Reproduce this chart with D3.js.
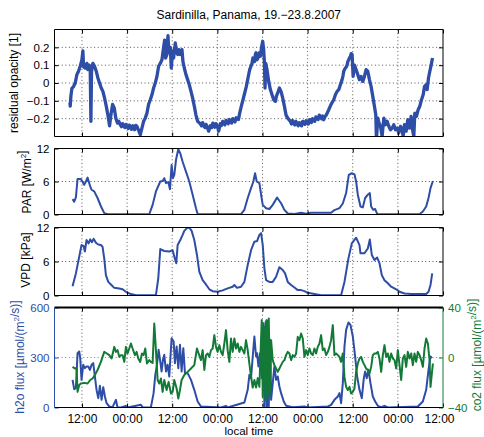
<!DOCTYPE html>
<html>
<head>
<meta charset="utf-8">
<script src="https://cdn.jsdelivr.net/npm/d3@7"></script>
<style>
  body { margin: 0; background: #fff; }
  text { font-family: "Liberation Sans", Arial, Helvetica, sans-serif; }
</style>
</head>
<body>
<svg id="chart" width="484" height="437"></svg>
<script>
// Time is given in hours since 19.8.2007 00:00 (local time).
const timeDomain = [4.7, 108];
const timeTicks = [12, 24, 36, 48, 60, 72, 84, 96, 108];

// residual opacity [1]
const opacity = [[8.80,-0.11],[8.88,-0.13],[9.05,-0.075],[9.32,-0.03],[9.76,-0.02],[10.21,0],[10.65,0.047],[11.09,0.066],[11.54,0.094],[11.98,0.13],[12.25,0.18],[12.43,0.09],[12.87,0.084],[13.31,0.11],[13.58,0.075],[13.93,0.10],[14.20,0.075],[14.38,-0.215],[14.55,0.066],[14.91,0.11],[15.35,0.094],[15.80,0.066],[16.24,0.028],[16.68,0],[17.13,-0.028],[17.57,-0.047],[18.01,-0.084],[18.46,-0.13],[18.90,-0.18],[19.34,-0.24],[19.70,-0.18],[20.14,-0.12],[20.59,-0.14],[21.03,-0.2],[21.47,-0.225],[21.8,-0.215],[22.18,-0.234],[22.5,-0.245],[22.8,-0.228],[23.07,-0.24],[23.4,-0.25],[23.7,-0.232],[23.96,-0.243],[24.3,-0.255],[24.6,-0.236],[24.84,-0.247],[25.2,-0.26],[25.5,-0.24],[25.73,-0.253],[26.0,-0.262],[26.3,-0.238],[26.62,-0.243],[27.06,-0.266],[27.50,-0.29],[27.95,-0.253],[28.39,-0.215],[28.83,-0.197],[29.28,-0.169],[29.72,-0.12],[30.17,-0.094],[30.61,-0.066],[31.05,-0.028],[31.50,0],[31.94,0.037],[32.38,0.094],[32.83,0.11],[33.27,0.13],[33.71,0.2],[33.98,0.24],[34.25,0.14],[34.60,0.16],[34.87,0.266],[35.13,0.17],[35.49,0.2],[35.75,0.084],[36.11,0.18],[36.37,0.14],[36.82,0.225],[37.08,0.18],[37.44,0.16],[37.79,0.187],[38.15,0.16],[38.59,0.187],[38.86,0.12],[39.21,0.084],[39.66,0.047],[40.10,0.019],[40.54,-0.01],[40.99,-0.047],[41.43,-0.084],[41.87,-0.13],[42.32,-0.18],[42.76,-0.215],[43.47,-0.228],[43.8,-0.24],[44.1,-0.222],[44.36,-0.24],[44.7,-0.25],[45.0,-0.232],[45.24,-0.243],[45.69,-0.27],[46.13,-0.24],[46.5,-0.25],[46.8,-0.225],[47.02,-0.234],[47.3,-0.248],[47.6,-0.228],[47.91,-0.24],[48.1,-0.25],[48.35,-0.27],[48.79,-0.228],[49.1,-0.238],[49.4,-0.215],[49.68,-0.225],[50.0,-0.235],[50.3,-0.21],[50.57,-0.22],[50.9,-0.228],[51.2,-0.205],[51.45,-0.215],[51.8,-0.225],[52.1,-0.2],[52.34,-0.21],[52.7,-0.218],[53.0,-0.195],[53.23,-0.202],[53.6,-0.205],[53.94,-0.169],[54.38,-0.13],[54.82,-0.094],[55.27,-0.056],[55.71,-0.019],[56.15,0.028],[56.60,0.075],[57.22,0.11],[57.45,0.14],[57.66,0.13],[57.9,0.12],[58.11,0.16],[58.3,0.17],[58.55,0.13],[58.8,0.14],[58.99,0.16],[59.2,0.17],[59.44,0.15],[59.79,0.206],[60.06,0.234],[60.32,0.187],[60.50,0.12],[60.68,-0.028],[60.86,0.11],[61.21,0.075],[61.65,0.009],[62.10,-0.037],[62.54,-0.066],[62.98,-0.094],[63.43,-0.103],[63.69,-0.075],[64.05,-0.056],[64.49,-0.028],[64.94,-0.047],[65.38,-0.084],[65.82,-0.13],[66.27,-0.18],[66.71,-0.197],[67.42,-0.215],[67.7,-0.23],[68.0,-0.21],[68.31,-0.225],[68.6,-0.235],[68.9,-0.215],[69.19,-0.228],[69.5,-0.24],[69.8,-0.222],[70.08,-0.234],[70.4,-0.24],[70.7,-0.215],[70.97,-0.22],[71.3,-0.232],[71.6,-0.212],[71.85,-0.225],[72.2,-0.23],[72.5,-0.205],[72.74,-0.215],[73.0,-0.222],[73.3,-0.2],[73.63,-0.206],[73.9,-0.215],[74.2,-0.19],[74.52,-0.197],[74.8,-0.205],[75.1,-0.18],[75.40,-0.187],[75.7,-0.2],[76.0,-0.185],[76.29,-0.206],[76.6,-0.19],[77.0,-0.178],[77.62,-0.15],[78.24,-0.12],[78.95,-0.094],[79.39,-0.066],[79.84,-0.047],[80.28,-0.037],[80.72,-0.01],[81.17,0.019],[81.4,0.04],[81.61,0.066],[81.8,0.075],[82.05,0.084],[82.3,0.09],[82.50,0.10],[82.7,0.12],[82.94,0.13],[83.1,0.14],[83.39,0.15],[83.6,0.165],[83.83,0.16],[84.10,0.037],[84.45,0.10],[84.89,0.075],[85.34,0.047],[85.78,0.019],[86.22,0.037],[86.67,0.009],[87.11,0.037],[87.55,0.075],[88.0,0.066],[88.44,0.019],[88.88,-0.019],[89.33,-0.075],[89.77,-0.13],[90.13,-0.178],[90.30,-0.32],[90.66,-0.197],[91.01,-0.225],[91.37,-0.243],[91.81,-0.30],[92.26,-0.197],[92.70,-0.234],[93.14,-0.215],[93.59,-0.243],[94.03,-0.262],[94.47,-0.253],[94.92,-0.234],[95.36,-0.262],[95.80,-0.253],[96.25,-0.28],[96.69,-0.243],[97.13,-0.262],[97.40,-0.30],[97.76,-0.234],[98.20,-0.27],[98.64,-0.206],[99.09,-0.253],[99.53,-0.187],[99.97,-0.27],[100.24,-0.30],[100.51,-0.169],[100.95,-0.187],[101.39,-0.15],[101.84,-0.13],[102.28,-0.094],[102.73,-0.066],[103.08,-0.019],[103.52,-0.01],[103.79,-0.037],[104.14,0.028],[104.50,0.066],[104.85,0.10],[105.21,0.14]];

// PAR [W/m2]
const par = [[9.50,2.8],[9.94,2.35],[10.39,3.1],[10.83,6.45],[11.72,6.45],[12.60,5.4],[13.05,6.0],[13.49,6.7],[14.20,5.1],[14.55,4.5],[15.26,4.2],[16.15,3.0],[17.04,1.5],[17.93,0.25],[18.81,0.05],[29.9,0.05],[30.79,1.75],[31.67,4.2],[32.83,6.0],[33.45,6.1],[33.89,6.6],[34.34,5.7],[34.96,5.9],[35.40,4.6],[35.84,9.0],[36.20,6.6],[36.55,7.2],[37.0,9.9],[37.62,11.9],[38.15,11.1],[38.77,9.6],[39.66,7.8],[40.54,6.0],[41.43,3.6],[42.32,1.15],[42.76,0.1],[54.29,0.05],[55.19,0.85],[56.08,3.0],[56.96,4.8],[57.58,6.0],[58.03,7.5],[58.47,6.0],[59.18,5.7],[59.63,3.6],[60.07,1.75],[60.96,1.15],[61.84,1.0],[62.73,1.75],[63.88,3.1],[64.95,2.05],[65.83,0.85],[66.72,0.18],[68.5,0.1],[70.27,0.3],[71.6,0.15],[72.93,0.3],[78.25,0.3],[79.14,0.8],[80.47,1.15],[81.36,2.0],[82.24,3.9],[82.95,7.2],[83.75,7.5],[84.46,7.3],[84.90,6.0],[85.35,3.6],[86.06,1.45],[86.68,1.3],[87.30,3.0],[88.01,3.6],[88.54,3.9],[88.90,1.45],[89.43,0.85],[89.96,1.0],[90.49,0.1],[92.44,0.05],[101.76,0.05],[102.64,0.55],[103.53,1.45],[104.15,3.0],[104.68,4.8],[105.31,6.1]];

// VPD [kPa]
const vpd = [[9.50,1.65],[10.39,3.9],[11.27,6.85],[11.89,8.9],[12.43,8.75],[12.78,7.75],[13.22,9.8],[13.76,9.2],[14.20,9.9],[14.64,9.4],[15.09,10.0],[15.71,9.3],[16.33,9.0],[17.04,8.9],[17.48,8.6],[17.93,6.5],[18.37,3.6],[18.99,2.4],[19.70,1.95],[20.59,1.35],[21.92,1.25],[22.80,1.1],[23.69,0.65],[25.02,0.25],[26.35,0.05],[31.67,0.05],[32.29,3.0],[32.83,8.2],[33.89,7.85],[35.22,7.75],[36.11,8.0],[36.73,6.45],[37.08,5.7],[37.44,8.9],[38.15,9.8],[38.77,10.7],[39.21,11.4],[39.92,11.9],[40.54,12.0],[41.16,11.4],[41.87,9.8],[42.58,7.15],[43.2,4.2],[44.09,2.7],[44.98,1.95],[45.87,1.1],[46.75,0.77],[48.08,0.65],[49.41,0.9],[50.74,1.25],[52.07,1.55],[52.52,1.85],[53.23,1.35],[54.29,1.55],[55.19,2.4],[56.08,5.4],[56.96,8.0],[57.85,9.5],[58.56,9.6],[59.18,10.7],[59.63,11.0],[60.07,8.9],[60.51,4.8],[60.96,2.7],[61.84,2.4],[62.73,2.4],[63.62,3.3],[64.50,5.0],[65.39,4.5],[66.01,3.9],[66.72,2.4],[67.61,1.85],[68.5,1.4],[69.38,0.95],[70.27,0.95],[71.16,0.77],[72.04,0.47],[73.82,0.25],[75.59,0.05],[80.91,0.05],[81.80,2.4],[82.86,6.55],[83.75,9.2],[84.90,10.2],[85.79,8.9],[86.06,7.45],[87.12,7.45],[88.01,8.3],[88.54,9.9],[89.07,7.15],[89.78,6.25],[90.49,6.7],[91.11,5.7],[91.73,3.6],[92.44,2.7],[93.33,2.15],[94.22,1.55],[95.55,1.1],[96.44,0.65],[97.77,0.35],[99.54,0.25],[103.53,0.25],[104.15,0.65],[104.68,1.85],[105.13,3.9]];

// h2o flux [umol/(m2/s)]
const h2o = [[9.50,166],[9.94,110],[10.39,116],[10.83,326],[11.27,336],[11.54,296],[11.89,166],[12.34,256],[12.78,236],[13.22,246],[13.67,246],[14.11,226],[14.55,256],[15.0,266],[15.44,186],[15.88,106],[16.33,56],[16.77,130],[17.22,46],[17.66,122],[18.10,66],[18.55,26],[19.26,6],[20.14,2],[21.03,46],[21.47,0],[22.36,0],[23.69,10],[24.13,0],[27.68,16],[28.13,0],[30.34,2],[31.05,86],[31.50,196],[31.94,256],[32.38,346],[32.83,276],[33.18,216],[33.54,286],[33.89,316],[34.34,216],[34.78,256],[35.22,186],[35.84,416],[36.37,396],[36.73,266],[37.17,366],[37.62,236],[38.06,376],[38.50,216],[38.95,356],[39.39,206],[40.10,206],[40.99,166],[41.87,106],[42.76,36],[43.65,6],[48.97,0],[50.30,10],[50.74,0],[55.18,30],[56.07,106],[56.52,196],[56.96,176],[57.41,306],[57.85,426],[58.29,306],[58.56,326],[58.92,246],[59.36,326],[59.80,176],[60.25,506],[60.51,0],[60.87,516],[61.13,0],[61.40,446],[61.67,6],[62.02,406],[62.29,46],[62.73,146],[63.17,246],[63.62,166],[64.06,186],[64.50,126],[64.95,86],[65.66,36],[66.28,10],[67.16,6],[68.05,2],[71.16,6],[72.04,0],[77.37,6],[78.25,16],[79.14,46],[80.03,66],[80.47,86],[80.91,26],[81.36,146],[81.80,366],[82.24,466],[82.86,510],[83.40,496],[84.02,426],[84.64,306],[85.17,186],[85.79,106],[86.41,56],[86.95,176],[87.30,216],[87.74,176],[88.19,226],[88.72,146],[89.34,66],[89.96,36],[90.67,10],[91.56,2],[92.44,10],[93.33,0],[101.31,6],[102.64,36],[103.53,106],[104.15,226],[104.68,306],[105.04,296]];

// co2 flux [umol/(m2/s)]
const co2 = [[9.50,-7.5],[10.12,-8.8],[10.56,-8.3],[10.83,-27.5],[11.27,-22],[11.72,-20.8],[12.60,-20.3],[13.49,-20.8],[14.20,-18],[14.82,-16.8],[15.44,-14],[16.15,-10],[17.04,-3.5],[17.93,4.5],[18.63,3.2],[19.26,1.9],[19.88,-0.8],[20.59,8.5],[21.03,4.5],[21.47,5.9],[21.92,0.5],[22.36,1.9],[22.80,1.9],[23.25,-3.5],[23.69,8.5],[24.13,3.2],[24.58,7.2],[25.02,11.2],[25.46,7.2],[26.09,1.9],[26.53,4.5],[26.97,-0.8],[27.50,-3.5],[27.95,3.2],[28.39,1.9],[28.84,7.2],[29.28,-4.8],[29.90,-2.1],[30.34,-3.5],[30.79,-4.3],[31.23,27.2],[31.67,5.9],[32.12,-18],[32.56,-20.8],[33.0,-16.8],[33.45,-27.5],[33.89,-18],[34.51,-26],[35.04,-19.5],[35.67,-28.8],[36.11,-27.5],[36.55,-18],[37.17,-24.8],[37.62,-32.8],[38.06,-26],[38.50,-18],[39.21,-14],[40.10,-11.5],[40.99,-8.8],[41.87,-6.1],[42.58,7.2],[43.03,3.2],[43.65,-2.1],[44.09,5.9],[44.54,-10],[44.98,1.9],[45.42,3.2],[45.87,0.5],[46.31,5.9],[46.75,7.2],[47.2,17.9],[47.64,8.5],[48.08,4.5],[48.53,9.9],[48.97,4.5],[49.41,1.9],[49.86,11.2],[50.30,21.9],[50.74,5.9],[51.19,-3.5],[51.63,15.2],[52.07,4.5],[52.52,15.2],[52.96,7.2],[53.41,11.2],[53.85,4.5],[54.29,8.5],[54.74,5.9],[55.18,3.2],[55.62,13.9],[56.07,5.9],[56.51,-4.8],[56.95,-15],[57.41,-24],[57.85,-18],[58.29,-24],[58.74,-16.5],[59.18,-23.5],[59.80,29.9],[60.07,-31.5],[60.51,24.5],[60.78,-34],[61.13,29.9],[61.40,-32.8],[61.67,31.2],[62.02,-28.8],[62.29,13.9],[62.73,-2.1],[63.17,-6.1],[63.62,-8.8],[64.06,-11.5],[64.50,-8.8],[64.95,-6.1],[65.39,-3.5],[65.83,-2.1],[66.28,1.9],[66.72,4.5],[67.16,3.2],[67.61,-2.1],[68.05,1.9],[68.5,0.5],[68.94,3.2],[69.38,16.5],[69.83,13.9],[70.27,19.2],[70.71,15.2],[71.16,0.5],[71.60,5.9],[72.04,1.9],[72.49,7.2],[72.93,3.2],[73.37,1.9],[73.82,7.2],[74.26,3.2],[74.70,8.5],[75.15,11.2],[75.59,17.9],[76.03,5.9],[76.48,7.2],[76.92,1.9],[77.37,4.5],[77.81,8.5],[78.25,13.9],[78.70,25.9],[79.14,1.9],[79.58,3.2],[80.03,1.9],[80.47,0.5],[80.91,-3.5],[81.36,3.2],[81.80,-15.5],[82.24,-23.5],[82.69,-26],[83.13,-23.5],[83.57,-28.8],[84.02,-27.5],[84.46,-24.8],[84.90,-11.5],[85.35,-4.8],[85.79,-0.8],[86.24,0.5],[86.68,-3.5],[87.12,-6.1],[87.57,-8.8],[88.01,-10],[88.45,-12.8],[88.90,-7.5],[89.34,1.9],[89.78,3.2],[90.23,3.2],[90.67,4.5],[91.11,-0.8],[91.56,-11.5],[92.0,1.9],[92.44,9.9],[92.89,0.5],[93.33,3.2],[93.77,-3.5],[94.22,3.2],[94.66,-0.8],[95.11,-2.1],[95.55,-8.8],[95.99,5.9],[96.44,-6.1],[96.88,-18],[97.32,-0.8],[97.77,1.9],[98.21,-7.5],[98.65,4.5],[99.10,-0.8],[99.54,3.2],[99.98,-6.1],[100.43,3.2],[100.87,-3.5],[101.31,4.5],[101.76,1.9],[102.20,-2.1],[102.64,-7.5],[103.09,7.2],[103.53,15.2],[103.98,11.2],[104.42,-2.1],[104.68,-23.5],[105.04,-12.8],[105.31,-4.8]];

const opacityTicks = [-0.2, -0.1, 0, 0.1, 0.2];
const parTicks = [0, 6, 12];
const vpdTicks = [0, 6, 12];
const h2oTicks = [0, 300, 600];
const co2Ticks = [-40, 0, 40];

const BLUE = "#2d4da6";
const GREEN = "#127a36";
const FONT = 12;
const TICK_FONT = 11.5;

const svg = d3.select("#chart");
const left = 54.5, right = 443;
const x = d3.scaleLinear().domain(timeDomain).range([left, right]);

const fmtTime = h => (h % 24 === 12 ? "12:00" : "00:00");

function drawPanel(cfg) {
  const y = d3.scaleLinear().domain(cfg.domain).range([cfg.bottom, cfg.top]);
  const g = svg.append("g");
  const clipId = "clip" + cfg.id;
  svg.append("clipPath").attr("id", clipId)
    .append("rect").attr("x", left).attr("y", cfg.top)
    .attr("width", right - left).attr("height", cfg.bottom - cfg.top);

  // dotted grid
  const grid = g.append("g").attr("stroke-width", 0.9).attr("stroke-dasharray", "1,2.6").attr("fill", "none");
  timeTicks.filter(t => t < timeDomain[1]).forEach(t => {
    grid.append("line").attr("x1", x(t)).attr("x2", x(t))
      .attr("y1", cfg.top).attr("y2", cfg.bottom).attr("stroke", "#444");
  });
  cfg.ticks.filter(v => v !== cfg.domain[0] && v !== cfg.domain[1]).forEach(v => {
    grid.append("line").attr("x1", left).attr("x2", right)
      .attr("y1", y(v)).attr("y2", y(v)).attr("stroke", cfg.gridColor || "#444");
  });

  return { y, g, clipId };
}

function addLine(p, data, y, color, width) {
  const line = d3.line().x(d => x(d[0])).y(d => y(d[1]));
  p.g.append("path").datum(data)
    .attr("clip-path", `url(#${p.clipId})`)
    .attr("fill", "none").attr("stroke", color).attr("stroke-width", width)
    .attr("stroke-linejoin", "round").attr("d", line);
}

function frame(cfg, y, opts) {
  const g = svg.append("g");
  const leftColor = opts.leftColor || "#000";
  const rightColor = opts.rightColor || "#000";
  // inward ticks on all four sides
  const ax = d3.axisLeft(y).tickValues(cfg.ticks).tickSize(-4).tickPadding(5).tickFormat(opts.fmt);
  const ga = g.append("g").attr("transform", `translate(${left},0)`).call(ax);
  ga.select(".domain").remove();
  ga.selectAll("line").attr("stroke", leftColor);
  ga.selectAll("text").attr("font-size", TICK_FONT).attr("fill", leftColor).attr("font-family", null);

  const ax2 = d3.axisRight(opts.yRight || y).tickValues(opts.rightTicks || cfg.ticks).tickSize(-4).tickPadding(5)
    .tickFormat(opts.rightFmt || "");
  const gb = g.append("g").attr("transform", `translate(${right},0)`).call(ax2);
  gb.select(".domain").remove();
  gb.selectAll("line").attr("stroke", rightColor);
  gb.selectAll("text").attr("font-size", TICK_FONT).attr("fill", rightColor).attr("font-family", null);

  const gt = g.append("g").attr("transform", `translate(0,${cfg.top})`)
    .call(d3.axisTop(x).tickValues(timeTicks).tickSize(-4).tickFormat(""));
  gt.select(".domain").remove();
  const gbm = g.append("g").attr("transform", `translate(0,${cfg.bottom})`)
    .call(d3.axisBottom(x).tickValues(timeTicks).tickSize(-4).tickPadding(6.5)
      .tickFormat(opts.xLabels ? fmtTime : ""));
  gbm.select(".domain").remove();
  gbm.selectAll("text").attr("font-size", FONT).attr("fill", "#000").attr("font-family", null);
  // the label at the right edge sits slightly inward
  gbm.selectAll("text").filter(d => d === timeDomain[1]).attr("dx", -4);

  // box
  const tw = opts.topWidth || 1;
  g.append("line").attr("x1", left).attr("x2", right).attr("y1", cfg.top).attr("y2", cfg.top)
    .attr("stroke", "#000").attr("stroke-width", tw);
  g.append("line").attr("x1", left).attr("x2", right).attr("y1", cfg.bottom).attr("y2", cfg.bottom)
    .attr("stroke", "#000").attr("stroke-width", 1);
  g.append("line").attr("x1", left).attr("x2", left).attr("y1", cfg.top).attr("y2", cfg.bottom)
    .attr("stroke", leftColor).attr("stroke-width", 1);
  g.append("line").attr("x1", right).attr("x2", right).attr("y1", cfg.top).attr("y2", cfg.bottom)
    .attr("stroke", rightColor).attr("stroke-width", 1);
}

const fmtOpacity = v => (v === 0 ? "0" : d3.format(".1f")(v));
const fmtInt = d3.format("d");

// Panel 1: residual opacity
const c1 = { id: 1, top: 29.5, bottom: 136.5, domain: [-0.3, 0.3], ticks: opacityTicks };
const p1 = drawPanel(c1);
addLine(p1, opacity, p1.y, BLUE, 3.3);
frame(c1, p1.y, { fmt: fmtOpacity });

// Panel 2: PAR
const c2 = { id: 2, top: 148.5, bottom: 214.5, domain: [0, 12], ticks: parTicks };
const p2 = drawPanel(c2);
addLine(p2, par, p2.y, BLUE, 2);
frame(c2, p2.y, { fmt: fmtInt });

// Panel 3: VPD
const c3 = { id: 3, top: 227.5, bottom: 295.5, domain: [0, 12], ticks: vpdTicks };
const p3 = drawPanel(c3);
addLine(p3, vpd, p3.y, BLUE, 2);
frame(c3, p3.y, { fmt: fmtInt });

// Panel 4: h2o and co2 fluxes on twin axes
const c4 = { id: 4, top: 307.5, bottom: 407.5, domain: [0, 600], ticks: h2oTicks, gridColor: "#5a74c0" };
const p4 = drawPanel(c4);
const yCo2 = d3.scaleLinear().domain([-40, 40]).range([c4.bottom, c4.top]);
addLine(p4, h2o, p4.y, BLUE, 2);
addLine(p4, co2, yCo2, GREEN, 2);
frame(c4, p4.y, {
  fmt: fmtInt, leftColor: BLUE, rightColor: GREEN, yRight: yCo2, rightTicks: co2Ticks,
  rightFmt: fmtInt, xLabels: true, topWidth: 2
});

// Title and axis labels
svg.append("text").attr("x", (left + right) / 2).attr("y", 19).attr("text-anchor", "middle")
  .attr("font-size", FONT).text("Sardinilla, Panama, 19.\u221223.8.2007");
svg.append("text").attr("x", (left + right) / 2).attr("y", 435).attr("text-anchor", "middle")
  .attr("font-size", 11.5).text("local time");

function yLabel(xPos, yPos, parts, color) {
  const t = svg.append("text").attr("transform", `translate(${xPos},${yPos}) rotate(-90)`)
    .attr("text-anchor", "middle").attr("font-size", FONT).attr("fill", color || "#000");
  parts.forEach(p => {
    if (p.sup) {
      t.append("tspan").attr("font-size", 8).attr("dy", -5).text(p.text);
      t.append("tspan").attr("dy", 5).text("");
    } else {
      t.append("tspan").text(p.text);
    }
  });
}

yLabel(18, 83, [{ text: "residual opacity [1]" }]);
yLabel(30.5, 182, [{ text: "PAR [W/m" }, { text: "2", sup: true }, { text: "]" }]);
yLabel(30, 260, [{ text: "VPD [kPa]" }]);
yLabel(24, 357, [{ text: "h2o flux [\u00b5mol/(m" }, { text: "2", sup: true }, { text: "/s)]" }], BLUE);
yLabel(481, 355, [{ text: "co2 flux [\u00b5mol/(m" }, { text: "2", sup: true }, { text: "/s)]" }], GREEN);
</script>
</body>
</html>
